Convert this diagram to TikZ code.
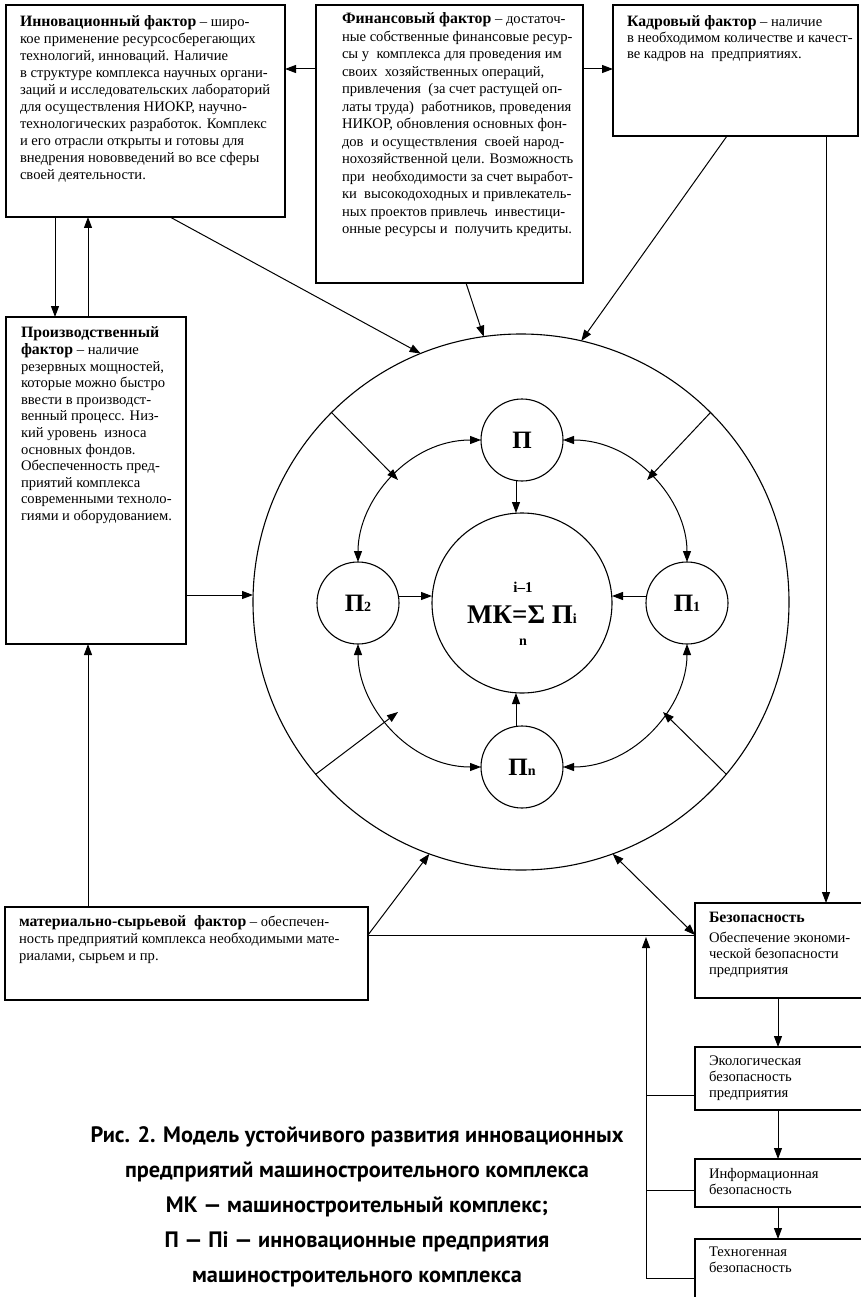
\documentclass[tikz,border=0pt]{standalone}
\usepackage{fontspec}
\setmainfont{Liberation Serif}
\newfontfamily\capfont{PT Sans}
\usetikzlibrary{arrows.meta}
\newcommand\hdb[1]{{\fontsize{15.8}{17}\selectfont\bfseries #1}}
\newcommand\bigP{\fontsize{25}{25}\selectfont\bfseries П}
\newcommand\smallsub[1]{{\fontsize{14}{14}\selectfont\bfseries #1}}
\begin{document}
\begin{tikzpicture}[x=1pt,y=-1pt,
 every node/.style={inner sep=0pt, outer sep=0pt},
 box/.style={draw, line width=1.2pt, anchor=north west},
 circ/.style={draw, circle, line width=1.1pt},
 txt/.style={anchor=north west, align=left, font=\fontsize{14.6}{17}\selectfont},
 ln/.style={line width=1pt},
 arr/.style={line width=1pt, -{Triangle[length=11pt,width=8pt]}},
 darr/.style={line width=1pt, {Triangle[length=11pt,width=8pt]}-{Triangle[length=11pt,width=8pt]}}]
\useasboundingbox (0,0) rectangle (860,1297);
\fill[white] (0,0) rectangle (860,1297);

% ---------- boxes ----------
\node[box, minimum width=279pt, minimum height=212pt] (innov) at (6,5) {};
\node[box, minimum width=267pt, minimum height=278pt] (fin) at (316,5) {};
\node[box, minimum width=245pt, minimum height=131pt] (kadr) at (613,5) {};
\node[box, minimum width=180pt, minimum height=327pt] (prod) at (6,317) {};
\node[box, minimum width=363pt, minimum height=93pt] (mat) at (5,907) {};
\node[box, minimum width=170pt, minimum height=95pt] (bez) at (695,903) {};
\node[box, minimum width=170pt, minimum height=63pt] (ekol) at (695,1047) {};
\node[box, minimum width=170pt, minimum height=48pt] (inf) at (695,1159) {};
\node[box, minimum width=170pt, minimum height=70pt] (tex) at (695,1239) {};

% ---------- texts ----------
\node[txt] (innovt) at (20,16) {\hdb{Инновационный фактор} – широ-\\
кое применение ресурсосберегающих\\
технологий, инноваций. Наличие\\
в структуре комплекса научных органи-\\
заций и исследовательских лабораторий\\
для осуществления НИОКР, научно-\\
технологических разработок. Комплекс\\
и его отрасли открыты и готовы для\\
внедрения нововведений во все сферы\\
своей деятельности.};

\node[txt, font=\fontsize{14.6}{17.5}\selectfont] (fint) at (342,13) {\hdb{Финансовый фактор} – достаточ-\\
ные собственные финансовые ресур-\\
сы у\ \ комплекса для проведения им\\
своих\ \ хозяйственных операций,\\
привлечения\ \ (за счет растущей оп-\\
латы труда)\ \ работников, проведения\\
НИКОР, обновления основных фон-\\
дов\ \ и осуществления\ \ своей народ-\\
нохозяйственной цели. Возможность\\
при\ \ необходимости за счет выработ-\\
ки\ \ высокодоходных и привлекатель-\\
ных проектов привлечь\ \ инвестици-\\
онные ресурсы и\ \ получить кредиты.};

\node[txt, font=\fontsize{14.6}{16}\selectfont] (kadrt) at (627,16) {\hdb{Кадровый фактор} – наличие\\
в необходимом количестве и качест-\\
ве кадров на\ \ предприятиях.};

\node[txt, font=\fontsize{14.6}{16.6}\selectfont] (prodt) at (21,327) {\hdb{Производственный}\\
\hdb{фактор} – наличие\\
резервных мощностей,\\
которые можно быстро\\
ввести в производст-\\
венный процесс. Низ-\\
кий уровень\ \ износа\\
основных фондов.\\
Обеспеченность пред-\\
приятий комплекса\\
современными техноло-\\
гиями и оборудованием.};

\node[txt] (matt) at (19,916) {\hdb{материально-сырьевой\ \ фактор} – обеспечен-\\
ность предприятий комплекса необходимыми мате-\\
риалами, сырьем и пр.};

\node[txt, font=\fontsize{14.6}{16}\selectfont] (bezt) at (709,912) {\hdb{Безопасность}\\[4pt]
Обеспечение экономи-\\
ческой безопасности\\
предприятия};

\node[txt, font=\fontsize{14.6}{16}\selectfont] (ekolt) at (709,1056) {Экологическая\\безопасность\\предприятия};
\node[txt, font=\fontsize{14.6}{16}\selectfont] (inft) at (709,1168) {Информационная\\безопасность};
\node[txt, font=\fontsize{14.6}{16}\selectfont] (text) at (709,1247) {Техногенная\\безопасность};

% ---------- circles ----------
\node[circ, minimum size=536pt] (big) at (521,602) {};
\node[circ, minimum size=180pt] (mk) at (522,603) {};
\node[circ, minimum size=82pt] (p0) at (522,440) {\bigP};
\node[circ, minimum size=82pt] (p2) at (358,603) {\bigP\smallsub{2}};
\node[circ, minimum size=82pt] (p1) at (687,603) {\bigP\smallsub{1}};
\node[circ, minimum size=82pt] (pn) at (522,767) {\bigP\smallsub{n}};

\node[font=\fontsize{15}{15}\selectfont\bfseries] (mki) at (523,587) {i–1};
\node[font=\fontsize{27}{27}\selectfont\bfseries] (mkf) at (522,615) {МК=Σ П\smallsub{i}};
\node[font=\fontsize{14}{14}\selectfont\bfseries] (mkn) at (523,642) {n};

\node[font=\capfont\bfseries\fontsize{22.3}{35}\selectfont, align=center] (cap) at (357,1207)
 {Рис. 2. Модель устойчивого развития инновационных\\
 предприятий машиностроительного комплекса\\
 МК — машиностроительный комплекс;\\
 П — Пi — инновационные предприятия\\
 машиностроительного комплекса};

% ---------- outer connectors ----------
\draw[arr] ([yshift=-64pt]fin.north west) -- ([yshift=-64pt]innov.north east);
\draw[arr] ([yshift=-64pt]fin.north east) -- ([yshift=-64pt]kadr.north west);
\draw[arr] ([xshift=49pt]innov.south west) -- ([xshift=49pt]prod.north west);
\draw[arr] ([xshift=82pt]prod.north west) -- ([xshift=82pt]innov.south west);
\draw[arr] ([xshift=164pt]innov.south west) -- (big.112.6);
\draw[arr] ([xshift=150pt]fin.south west) -- (big.98.8);
\draw[arr] ([xshift=114pt]kadr.south west) -- (big.77.6);
\draw[arr] ([xshift=213pt]kadr.south west) -- ([xshift=131pt]bez.north west);
\draw[arr] ([yshift=-278pt]prod.north east) -- ([yshift=-278pt]prod.north east -| big.west);
\draw[arr] ([xshift=83pt]mat.north west) -- ([xshift=82pt]prod.south west);
\draw[arr] ([yshift=-28pt]mat.north east) -- (big.250.6);
\draw[ln] ([yshift=-28pt]mat.north east) -- ([yshift=-32pt]bez.north west);
\draw[darr] (big.290.4) -- ([yshift=-32pt]bez.north west);

% security chain
\draw[arr] ([xshift=83pt]bez.south west) -- ([xshift=83pt]ekol.north west);
\draw[arr] ([xshift=83pt]ekol.south west) -- ([xshift=83pt]inf.north west);
\draw[arr] ([xshift=83pt]inf.south west) -- ([xshift=83pt]tex.north west);
\draw[arr] ([yshift=-39pt]tex.north west) -| ([xshift=-49pt,yshift=-34pt]bez.north west);
\draw[ln] ([yshift=-48pt]ekol.north west) -- +(-49pt,0);
\draw[ln] ([yshift=-31pt]inf.north west) -- +(-49pt,0);

% ---------- inner connectors ----------
\draw[arr] ([xshift=-6pt]p0.south) -- ([xshift=-6pt]mk.north);
\draw[arr] ([xshift=-6pt]pn.north) -- ([xshift=-6pt]mk.south);
\draw[arr] ([yshift=7pt]p2.east) -- ([yshift=7pt]mk.west);
\draw[arr] ([yshift=7pt]p1.west) -- ([yshift=7pt]mk.east);

\draw[darr] (p0.west) .. controls +(-72,0) and +(0,-62) .. (p2.north);
\draw[darr] (p0.east) .. controls +(72,0) and +(0,-62) .. (p1.north);
\draw[darr] (pn.west) .. controls +(-72,0) and +(0,62) .. (p2.south);
\draw[darr] (pn.east) .. controls +(72,0) and +(0,62) .. (p1.south);

\coordinate (tUL) at (398,480);
\coordinate (tUR) at (647,480);
\coordinate (tLL) at (398,712);
\coordinate (tLR) at (663,712);
\draw[arr] (big.135) -- (tUL);
\draw[arr] (big.45) -- (tUR);
\draw[arr] (big.220.6) -- (tLL);
\draw[arr] (big.320) -- (tLR);
\end{tikzpicture}
\end{document}
